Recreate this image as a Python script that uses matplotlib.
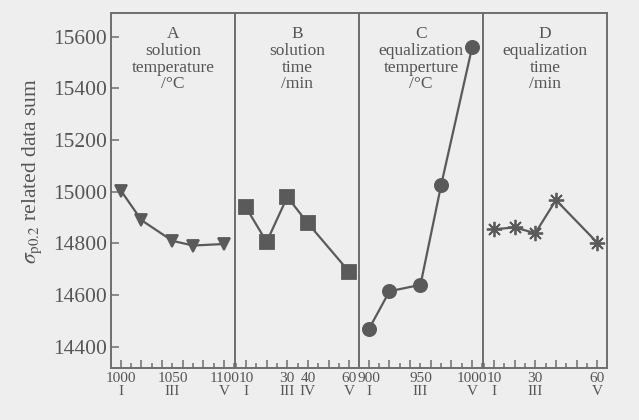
import matplotlib
matplotlib.use("Agg")
import matplotlib.pyplot as plt
import matplotlib.transforms as mtransforms
from matplotlib.ticker import MultipleLocator

plt.rcParams['font.family'] = ['Liberation Serif', 'DejaVu Serif']
plt.rcParams['mathtext.fontset'] = 'stix'

# factor levels (x) and sums of sigma_p0.2 (y)
a_temp = [1000, 1020, 1050, 1070, 1100]
a_sum = [15005, 14890, 14810, 14792, 14798]
b_time = [10, 20, 30, 40, 60]
b_sum = [14940, 14806, 14980, 14878, 14690]
c_temp = [900, 920, 950, 970, 1000]
c_sum = [14468, 14615, 14640, 15026, 15560]
d_time = [10, 20, 30, 40, 60]
d_sum = [14855, 14862, 14840, 14968, 14803]

titles = ["A\nsolution\ntemperature\n/°C",
          "B\nsolution\ntime\n/min",
          "C\nequalization\ntemperture\n/°C",
          "D\nequalization\ntime\n/min"]
tick_pos = [[1000, 1050, 1100], [10, 30, 40, 60], [900, 950, 1000], [10, 30, 60]]
tick_lab = [["1000\nI", "1050\nIII", "1100\nV"],
            ["10\nI", "30\nIII", "40\nIV", "60\nV"],
            ["900\nI", "950\nIII", "1000\nV"],
            ["10\nI", "30\nIII", "60\nV"]]

bg = '#eeeeee'
ink = '#5a5a5a'
frame = '#6e6e6e'
txt = '#555555'

fig = plt.figure(figsize=(6.39, 4.20), dpi=100, facecolor=bg)
left, right, bottom, top = 111 / 639, 607 / 639, 1 - 368 / 420, 1 - 13 / 420
w = (right - left) / 4

xs = [a_temp, b_time, c_temp, d_time]
ys = [a_sum, b_sum, c_sum, d_sum]
markers = ['v', 's', 'o', (8, 2, 0)]
msizes = [9, 9.5, 9.5, 11]
xlims = [(990.5, 1110.5), (4.7, 64.7), (890.5, 1010.5), (4.7, 64.7)]
major = [20, 10, 20, 10]
minor = [10, 5, 10, 5]

for i in range(4):
    ax = fig.add_axes([left + i * w, bottom, w, top - bottom])
    ax.set_facecolor(bg)
    ax.plot(xs[i], ys[i], color=ink, lw=1.6, marker=markers[i], ms=msizes[i],
            mfc=ink, mec=ink, mew=1.3, clip_on=False, zorder=3)
    ax.set_xlim(*xlims[i])
    ax.set_ylim(14318, 15692)
    for s in ax.spines.values():
        s.set_color(frame)
        s.set_linewidth(1.4)
    ax.xaxis.set_major_locator(MultipleLocator(major[i]))
    ax.xaxis.set_minor_locator(MultipleLocator(minor[i]))
    ax.tick_params(axis='x', which='major', direction='in', length=6, width=1.1,
                   color=frame, labelbottom=False)
    ax.tick_params(axis='x', which='minor', direction='in', length=3.5, width=1.1,
                   color=frame)
    if i == 0:
        ax.set_yticks([14400, 14600, 14800, 15000, 15200, 15400, 15600])
        ax.tick_params(axis='y', direction='in', length=6, width=1.1, color=frame,
                       labelsize=15.5, labelcolor=txt, pad=3)
        ax.set_ylabel(r"$\sigma_{\mathrm{p0.2}}$ related data sum", fontsize=15.5,
                      color=txt)
        ax.yaxis.set_label_coords(-0.54, 0.555)
    else:
        ax.tick_params(axis='y', left=False, labelleft=False)
    ax.text(0.5, 0.962, titles[i], transform=ax.transAxes, ha='center', va='top',
            fontsize=12.5, color=txt, linespacing=1.05)
    trans = mtransforms.blended_transform_factory(ax.transData, ax.transAxes)
    for p, lab in zip(tick_pos[i], tick_lab[i]):
        ax.text(p, -0.012, lab, transform=trans, ha='center', va='top',
                fontsize=11, color=txt, linespacing=1.0)

fig.savefig("out.png", dpi=100, facecolor=bg)
